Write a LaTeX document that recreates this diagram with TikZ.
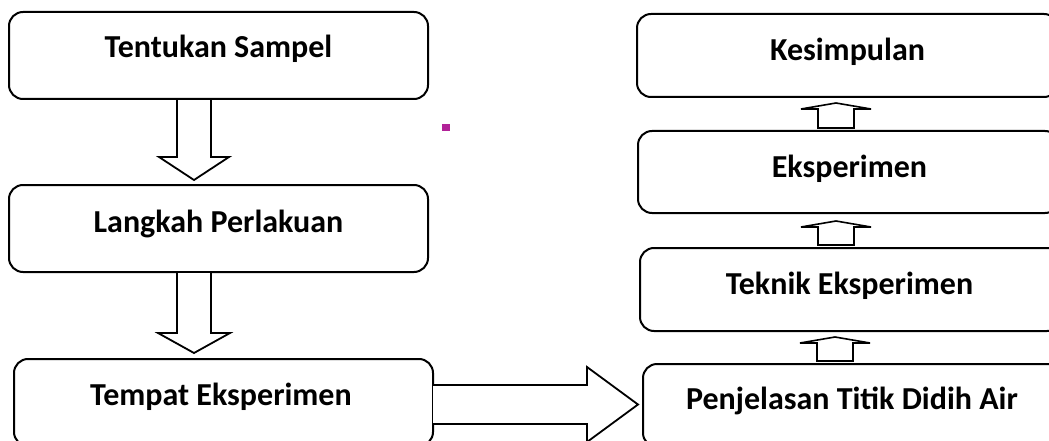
\documentclass[tikz,border=0pt]{standalone}
\usepackage{fontspec}
\setmainfont{Carlito}
\usetikzlibrary{calc}
\definecolor{mag}{RGB}{178,34,152}
\begin{document}
\begin{tikzpicture}[x=1pt,y=-1pt,
  box/.style={draw, line width=2pt, rounded corners=14pt, inner sep=0pt, outer sep=0pt, fill=white},
  lbl/.style={inner sep=0pt, outer sep=0pt, anchor=base, font=\fontsize{32}{38}\selectfont\bfseries},
  blockarrow/.style={draw, line width=1.8pt, fill=white, line join=miter}]
\useasboundingbox (0,0) rectangle (1049,441);
\clip (0,0) rectangle (1049,441);
\fill[white] (0,0) rectangle (1049,441);

% left column
\node[box, minimum width=419pt, minimum height=87pt] (b1) at (218.5,55.5) {};
\node[lbl] (t1) at (218.5,58) {Tentukan Sampel};
\node[box, minimum width=419pt, minimum height=87pt] (b2) at (218.5,228.5) {};
\node[lbl] (t2) at (218.5,232) {Langkah Perlakuan};
\node[box, minimum width=419pt, minimum height=87pt] (b3) at (223.5,402.5) {};
\node[lbl] (t3) at (221,405) {Tempat Eksperimen};

% right column
\node[box, minimum width=421pt, minimum height=83pt] (k) at (847.5,55.5) {};
\node[lbl] (tk1) at (847.5,61) {Kesimpulan};
\node[box, minimum width=421pt, minimum height=82pt] (e2) at (848.5,172) {};
\node[lbl] (te2) at (849.5,177) {Eksperimen};
\node[box, minimum width=421pt, minimum height=83pt] (tk) at (850.5,289.5) {};
\node[lbl] (ttk) at (849.5,294) {Teknik Eksperimen};
\node[box, minimum width=421pt, minimum height=83pt] (p) at (853.5,405.5) {};
\node[lbl] (tp) at (852,409) {Penjelasan Titik Didih Air};

% magenta square
\node[fill=mag, minimum size=7.5pt, inner sep=0pt, outer sep=0pt] (dot) at (445.75,127.75) {};

% down arrow 1
\coordinate (d1s) at ($(b1.south)+(-24.5,0)$);
\coordinate (d1t) at ($(b2.north)+(-24.5,-5)$);
\draw[blockarrow] let \p1=(d1s), \p2=(d1t) in
  (\x1-17pt,\y1) -- (\x1-17pt,\y2+23pt) -- (\x1-35pt,\y2+23pt) -- (\x2,\y2)
  -- (\x1+35pt,\y2+23pt) -- (\x1+17pt,\y2+23pt) -- (\x1+17pt,\y1) -- cycle;

% down arrow 2
\coordinate (d2s) at ($(b2.south)+(-24.5,0)$);
\coordinate (d2t) at ($(b3.north)+(-29.5,-6)$);
\draw[blockarrow] let \p1=(d2s), \p2=(d2t) in
  (\x1-17pt,\y1) -- (\x1-17pt,\y2+20pt) -- (\x1-36pt,\y2+20pt) -- (\x2,\y2)
  -- (\x1+36pt,\y2+20pt) -- (\x1+17pt,\y2+20pt) -- (\x1+17pt,\y1) -- cycle;

% right arrow
\coordinate (rs) at ($(b3.east)+(0,2)$);
\coordinate (rt) at ($(p.west)+(-5,-1)$);
\draw[blockarrow] let \p1=(rs), \p2=(rt) in
  (\x1,\y1+19.5pt) -- (\x2-51pt,\y1+19.5pt) -- (\x2-51pt,\y1+37.5pt) -- (\x2,\y2)
  -- (\x2-51pt,\y1-37.5pt) -- (\x2-51pt,\y1-19.5pt) -- (\x1,\y1-19.5pt);

% up arrows
\coordinate (uas) at ($(e2.north)+(-12.5,-3)$);
\coordinate (uat) at ($(k.south)+(-11.5,6)$);
\coordinate (ubs) at ($(tk.north)+(-14.5,-3)$);
\coordinate (ubt) at ($(e2.south)+(-12.5,8)$);
\coordinate (ucs) at ($(p.north)+(-18.5,-3)$);
\coordinate (uct) at ($(tk.south)+(-15.5,6)$);
\foreach \s/\t in {uas/uat, ubs/ubt, ucs/uct}{
  \draw[blockarrow, line width=1.6pt] let \p1=(\s), \p2=(\t) in
    (\x1-18pt,\y1) -- (\x1-18pt,\y2-6pt) -- (\x1-35pt,\y2-6pt) -- (\x1,\y2)
    -- (\x1+35pt,\y2-6pt) -- (\x1+18pt,\y2-6pt) -- (\x1+18pt,\y1) -- cycle;
}
\end{tikzpicture}
\end{document}
